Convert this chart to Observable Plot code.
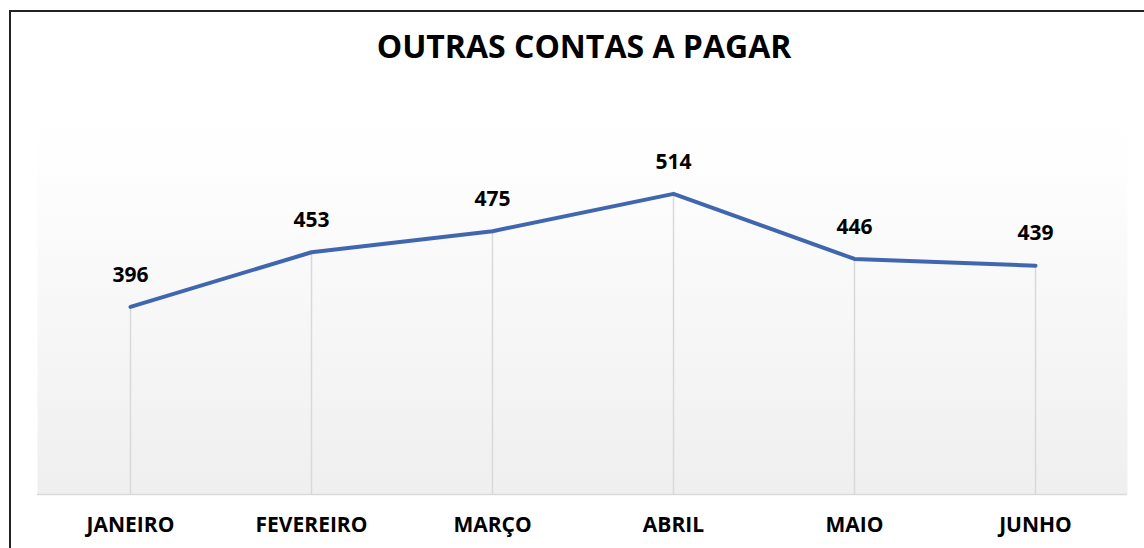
<!DOCTYPE html>
<html>
<head>
<meta charset="utf-8">
<script src="https://cdn.jsdelivr.net/npm/d3@7"></script>
<script src="https://cdn.jsdelivr.net/npm/@observablehq/plot@0.6"></script>
<style>
  html, body { margin: 0; padding: 0; background: #fff; }
  #wrap { position: relative; width: 1144px; height: 548px; overflow: hidden; }
  #border { position: absolute; left: 9px; top: 10px; width: 1200px; height: 600px; border: 2px solid #222; box-sizing: border-box; }
  #title { position: absolute; left: 0; width: 1168px; top: 24px; text-align: center; font-family: "Open Sans", sans-serif; font-weight: 700; font-size: 32px; color: #000; }
  #chart { position: absolute; left: 0; top: 0; }
</style>
</head>
<body>
<div id="wrap">
  <div id="chart"></div>
  <div id="border"></div>
  <div id="title">OUTRAS CONTAS A PAGAR</div>
</div>
<script>
const months = ["JANEIRO", "FEVEREIRO", "MARÇO", "ABRIL", "MAIO", "JUNHO"];
const values = [396, 453, 475, 514, 446, 439];
const yMin = 200;
const yMax = 600;

const data = months.map((m, i) => ({month: m, value: values[i]}));
const font = "Open Sans, sans-serif";

const chart = Plot.plot({
  width: 1144,
  height: 548,
  marginLeft: 37,
  marginRight: 17,
  marginTop: 111,
  marginBottom: 54,
  style: {fontFamily: font, background: "transparent"},
  x: {type: "point", domain: months, padding: 0.5, label: null},
  y: {domain: [yMin, yMax], axis: null},
  marks: [
    Plot.frame({fill: "url(#bggrad)", stroke: "none"}),
    Plot.ruleX(data, {x: "month", y1: yMin, y2: "value", stroke: "#d9d9d9", strokeWidth: 1.5}),
    Plot.ruleY([yMin], {stroke: "#d9d9d9", strokeWidth: 1.5}),
    Plot.line(data, {x: "month", y: "value", stroke: "#4166b0", strokeWidth: 4, strokeLinejoin: "round", strokeLinecap: "round"}),
    Plot.text(data, {x: "month", y: "value", text: d => String(d.value), dy: -32, fontSize: 21, fontWeight: 700, fill: "#000"}),
    Plot.axisX({tickSize: 0, tickPadding: 23, fontSize: 21, fontWeight: 700, label: null, fill: "#000"})
  ]
});

// gradient for plot background
const ns = "http://www.w3.org/2000/svg";
const defs = document.createElementNS(ns, "defs");
const grad = document.createElementNS(ns, "linearGradient");
grad.setAttribute("id", "bggrad");
grad.setAttribute("x1", "0"); grad.setAttribute("y1", "0");
grad.setAttribute("x2", "0"); grad.setAttribute("y2", "1");
[["0", "#ffffff"], ["0.12", "#fefefe"], ["1", "#efefef"]].forEach(([o, c]) => {
  const s = document.createElementNS(ns, "stop");
  s.setAttribute("offset", o); s.setAttribute("stop-color", c);
  grad.appendChild(s);
});
defs.appendChild(grad);
chart.insertBefore(defs, chart.firstChild);
chart.querySelectorAll("text").forEach(t => t.setAttribute("fill", "#000"));
document.getElementById("chart").appendChild(chart);
</script>
</body>
</html>
